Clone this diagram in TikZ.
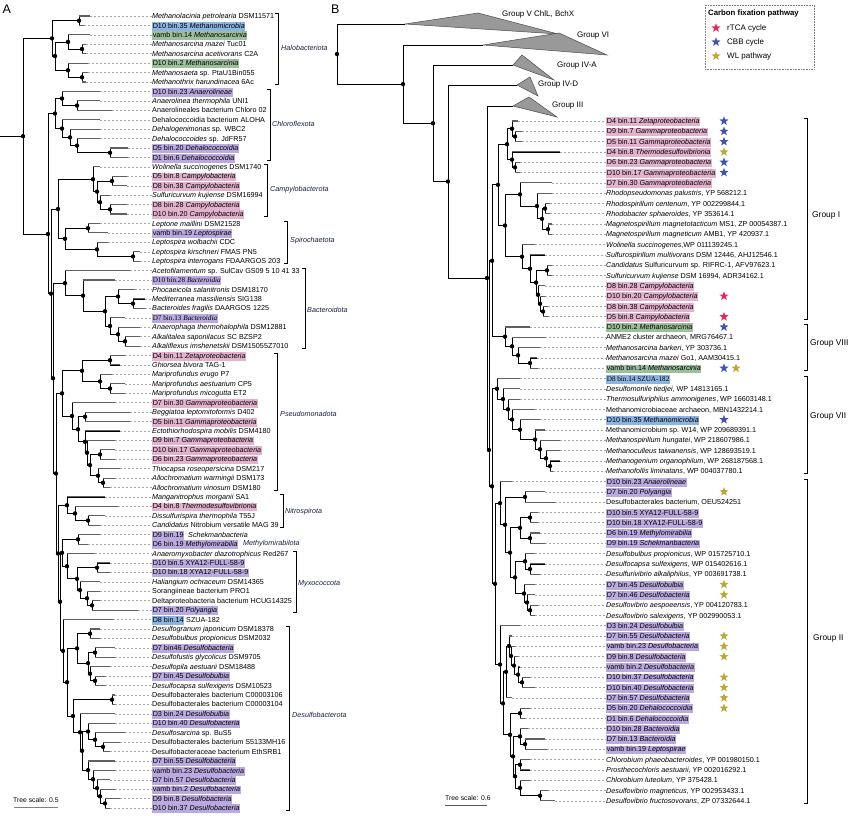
\documentclass[tikz,border=0pt]{standalone}
\usepackage{fontspec}
\setmainfont{Liberation Sans}
\newfontfamily\tnr{Liberation Serif}
\usetikzlibrary{calc,shapes.geometric}

\definecolor{hlpink}{RGB}{226,178,206}
\definecolor{hlpurp}{RGB}{186,170,224}
\definecolor{hlblue}{RGB}{140,180,224}
\definecolor{hlgreen}{RGB}{156,192,156}
\definecolor{strred}{RGB}{232,38,94}
\definecolor{strblue}{RGB}{62,84,176}
\definecolor{strgold}{RGB}{188,168,58}
\definecolor{navy}{RGB}{22,30,70}

\newcommand\hl[2]{{\setlength\fboxsep{0.6pt}\colorbox{#1}{\rule[-1.9pt]{0pt}{7.6pt}#2}}}
% clade: name, x, upper child, lower child
\newcommand\clade[4]{%
  \path let \p1=(#3), \p2=(#4) in (#2pt,{0.5*(\y1+\y2)}) coordinate (#1);
  \cladebody{#1}{#3}{#4}}
% clade with the stem at a given y: name, x, y, upper child, lower child
\newcommand\cladey[5]{%
  \coordinate (#1) at (#2,#3);
  \cladebody{#1}{#4}{#5}}
\newcommand\cladebody[3]{%
  \coordinate (p#2) at (#1 |- #2);
  \coordinate (p#3) at (#1 |- #3);
  \draw[tree] (#2) -| (#1 |- #3) -- (#3);
  \fill (#1) circle (2.2pt);}
% bracket: x, top leaf, bottom leaf
\newcommand\phybr[3]{\draw[brk] ([yshift=2.5pt]#1-3,0 |- #2) -- ([yshift=2.5pt]#1,0 |- #2)
  -- ([yshift=-2.5pt]#1,0 |- #3) -- ([yshift=-2.5pt]#1-3,0 |- #3);}

\tikzset{
  tree/.style={line width=0.8pt},
  twig/.style={line width=1.1pt,gray!75!black},
  lab/.style={anchor=base west,inner sep=0pt,font=\fontsize{7.2}{8}\selectfont},
  dashc/.style={gray!70,line width=0.45pt,dash pattern=on 2.4pt off 1.6pt},
  brk/.style={line width=0.6pt},
  phylum/.style={anchor=west,inner sep=0pt,text=navy,font=\fontsize{7.2}{8}\selectfont\itshape},
  grp/.style={anchor=west,inner sep=0pt,font=\fontsize{8.4}{9}\selectfont},
  collapsed/.style={fill=gray!80,draw=black!70,line width=0.5pt},
  fixstar/.style={star,star points=5,star point ratio=2.4,minimum size=9.5pt,inner sep=0pt},
  legtxt/.style={anchor=west,inner sep=0pt,font=\fontsize{8}{9}\selectfont},
  scaletxt/.style={anchor=west,inner sep=0pt,font=\fontsize{6.8}{8}\selectfont},
}

\begin{document}
\begin{tikzpicture}[x=1pt,y=-1pt]
\useasboundingbox (0,0) rectangle (863,816);
\coordinate (org) at (0,0);
\node[anchor=north west,inner sep=0pt,font=\fontsize{12.5}{14}\selectfont] (pA) at (2.5,5) {A};
\node[anchor=north west,inner sep=0pt,font=\fontsize{12.5}{14}\selectfont] (pB) at (331,5) {B};
%
% panel A leaves
\foreach \i/\e/\tx in {
 1/90/{\textit{Methanolacinia petrolearia} DSM11571},
 2/84/{\hl{hlblue}{D10 bin.35 \textit{Methanomicrobia}}},
 3/90/{\hl{hlgreen}{vamb bin.14 \textit{Methanosarcinia}}},
 4/86/{\textit{Methanosarcina mazei} Tuc01},
 5/86/{\textit{Methanosarcina acetivorans} C2A},
 6/88/{\hl{hlgreen}{D10 bin.2 \textit{Methanosarcinia}}},
 7/88/{\textit{Methanosaeta} sp. PtaU1Bin055},
 8/86/{\textit{Methanothrix harundinacea} 6Ac},
 9/100/{\hl{hlpurp}{D10 bin.23 \textit{Anaerolineae}}},
 10/100/{\textit{Anaerolinea thermophila} UNI1},
 11/112/{Anaerolineales bacterium Chloro 02},
 12/100/{Dehalococcoidia bacterium ALOHA},
 13/100/{\textit{Dehalogenimonas} sp. WBC2},
 14/100/{\textit{Dehalococcoides} sp. JdFR57},
 15/128/{\hl{hlpurp}{D5 bin.20 \textit{Dehalococcoidia}}},
 16/128/{\hl{hlpurp}{D1 bin.6 \textit{Dehalococcoidia}}},
 17/100/{\textit{Wolinella succinogenes} DSM1740},
 18/127/{\hl{hlpink}{D5 bin.8 \textit{Campylobacteria}}},
 19/127/{\hl{hlpink}{D8 bin.38 \textit{Campylobacteria}}},
 20/110/{\textit{Sulfuricurvum kujiense} DSM16994},
 21/127/{\hl{hlpink}{D8 bin.28 \textit{Campylobacteria}}},
 22/127/{\hl{hlpink}{D10 bin.20 \textit{Campylobacteria}}},
 23/100/{\textit{Leptone maillini} DSM21528},
 24/108/{\hl{hlpurp}{vamb bin.19 \textit{Leptospirae}}},
 25/108/{\textit{Leptospira wolbachii} CDC},
 26/140/{\textit{Leptospira kirschneri} FMAS PN5},
 27/140/{\textit{Leptospira interrogans} FDAARGOS 203},
 28/130/{\textit{Acetofilamentum} sp. SulCav GS09 5 10 41 33},
 29/115/{\hl{hlpurp}{\tnr D10 bin.28 \textit{Bacteroidia}}},
 30/135/{\textit{Phocaeicola salanitronis} DSM18170},
 31/145/{\textit{Mediterranea massiliensis} SIG138},
 32/145/{\textit{Bacteroides fragilis} DAARGOS 1225},
 33/125/{\hl{hlpurp}{\tnr D7 bin.13 \textit{Bacteroidia}}},
 34/140/{\textit{Anaerophaga thermohalophila} DSM12881},
 35/140/{\textit{Alkalitalea saponilacus} SC BZSP2},
 36/140/{\textit{Alkaliflexus imshenetskii} DSM15055Z7010},
 37/125/{\hl{hlpink}{D4 bin.11 \textit{Zetaproteobacteria}}},
 38/120/{\textit{Ghiorsea bivora} TAG-1},
 39/112/{\textit{Mariprofundus erugo} P7},
 40/125/{\textit{Mariprofundus aestuarium} CP5},
 41/125/{\textit{Mariprofundus micogutta} ET2},
 42/115/{\hl{hlpink}{D7 bin.30 \textit{Gammaproteobacteria}}},
 43/130/{\textit{Beggiatoa leptomitoformis} D402},
 44/130/{\hl{hlpink}{D5 bin.11 \textit{Gammaproteobacteria}}},
 45/120/{\textit{Ectothiorhodospira mobilis} DSM4180},
 46/115/{\hl{hlpink}{D9 bin.7 \textit{Gammaproteobacteria}}},
 47/115/{\hl{hlpink}{D10 bin.17 \textit{Gammaproteobacteria}}},
 48/115/{\hl{hlpink}{D6 bin.23 \textit{Gammaproteobacteria}}},
 49/120/{\textit{Thiocapsa roseopersicina} DSM217},
 50/115/{\textit{Allochromatium warmingii} DSM173},
 51/110/{\textit{Allochromatium vinosum} DSM180},
 52/105/{\textit{Manganitrophus morganii} SA1},
 53/118/{\hl{hlpink}{D4 bin.8 \textit{Thermodesulfovibrionia}}},
 54/105/{\textit{Dissulfurispira thermophila} T55J},
 55/100/{\textit{Candidatus} Nitrobium versatile MAG 39},
 56/100/{\hl{hlpurp}{D9 bin.19}\ \ \textit{Schekmanbacteria}},
 57/88/{\hl{hlpurp}{D6 bin.19 \textit{Methylomirabilia}}},
 58/95/{\textit{Anaeromyxobacter diazotrophicus} Red267},
 59/110/{\hl{hlpurp}{D10 bin.5 XYA12-FULL-58-9}},
 60/110/{\hl{hlpurp}{D10 bin.18 XYA12-FULL-58-9}},
 61/100/{\textit{Haliangium ochraceum} DSM14365},
 62/100/{Sorangiineae bacterium PRO1},
 63/100/{Deltaproteobacteria bacterium HCUG14325},
 64/138/{\hl{hlpurp}{D7 bin.20 \textit{Polyangia}}},
 65/113/{\hl{hlblue}{D8 bin.14} SZUA-182},
 66/100/{\textit{Desulfogranum japonicum} DSM18378},
 67/100/{\textit{Desulfobulbus propionicus} DSM2032},
 68/115/{\hl{hlpurp}{D7 bin46 \textit{Desulfobacteria}}},
 69/115/{\textit{Desulfofustis glycolicus} DSM9705},
 70/110/{\textit{Desulfopila aestuarii} DSM18488},
 71/105/{\hl{hlpurp}{D7 bin.45 \textit{Desulfobulbia}}},
 72/105/{\textit{Desulfocapsa sulfexigens} DSM10523},
 73/115/{Desulfobacterales bacterium C00003106},
 74/115/{Desulfobacterales bacterium C00003104},
 75/115/{\hl{hlpurp}{D3 bin.24 \textit{Desulfobulbia}}},
 76/115/{\hl{hlpurp}{D10 bin.40 \textit{Desulfobacteria}}},
 77/125/{\textit{Desulfosarcina} sp. BuS5},
 78/120/{Desulfobacterales bacterium S5133MH16},
 79/110/{Desulfobacteraceae bacterium EthSRB1},
 80/115/{\hl{hlpurp}{D7 bin.55 \textit{Desulfobacteria}}},
 81/115/{\hl{hlpurp}{vamb bin.23 \textit{Desulfobacteria}}},
 82/110/{\hl{hlpurp}{D7 bin.57 \textit{Desulfobacteria}}},
 83/115/{\hl{hlpurp}{vamb bin.2 \textit{Desulfobacteria}}},
 84/120/{\hl{hlpurp}{D9 bin.8 \textit{Desulfobacteria}}},
 85/110/{\hl{hlpurp}{D10 bin.37 \textit{Desulfobacteria}}}}{
  \pgfmathsetmacro\yy{16+(\i-1)*9.43}
  \pgfmathsetmacro\yb{\yy+2.6}
  \coordinate (a\i) at (\e,\yy);
  \node[lab] (ta\i) at (152,\yb) {\tx};
  \draw[dashc] (a\i) -- (a\i -| ta\i.west);
}
%
% panel A tree
\clade{aH1}{79}{a1}{a2}
\clade{aH5}{82}{a4}{a5}
\clade{aH3}{68}{a3}{aH5}
\clade{aH6}{82}{a7}{a8}
\clade{aH4}{68}{a6}{aH6}
\clade{aH2}{55}{aH3}{aH4}
\clade{aH}{52}{aH1}{aH2}
\clade{aC1a}{77}{a10}{a11}
\clade{aC1}{62}{a9}{aC1a}
\clade{aC2c}{110}{a15}{a16}
\clade{aC2b}{77}{a14}{aC2c}
\clade{aC2a}{70}{a13}{aC2b}
\clade{aC2}{62}{a12}{aC2a}
\clade{aC}{55}{aC1}{aC2}
\clade{aK3}{112}{a18}{a19}
\clade{aK5}{110}{a21}{a22}
\clade{aK4}{100}{a20}{aK5}
\clade{aK2}{97}{aK3}{aK4}
\clade{aK1}{93}{a17}{aK2}
\clade{aS1}{88}{a23}{a24}
\clade{aS3}{133}{a26}{a27}
\clade{aS2}{97}{a25}{aS3}
\clade{aS}{65}{aS1}{aS2}
\clade{aCS}{58}{aK1}{aS}
\clade{aBd5}{133}{a31}{a32}
\clade{aBd3}{118}{a30}{aBd5}
\clade{aBd7}{125}{a35}{a36}
\clade{aBd6}{118}{a34}{aBd7}
\clade{aBd4}{110}{a33}{aBd6}
\clade{aBd2}{105}{aBd3}{aBd4}
\clade{aBd1}{83}{a29}{aBd2}
\clade{aBd}{65}{a28}{aBd1}
\clade{aZe1}{110}{a37}{a38}
\clade{aZe3}{110}{a40}{a41}
\clade{aZe2}{100}{a39}{aZe3}
\clade{aZe}{82}{aZe1}{aZe2}
\clade{aG3}{85}{a43}{a44}
\clade{aG7}{100}{a47}{a48}
\clade{aG9}{103}{a50}{a51}
\clade{aG8}{98}{a49}{aG9}
\clade{aG6}{90}{aG7}{aG8}
\clade{aG5}{87}{a46}{aG6}
\clade{aG4}{85}{a45}{aG5}
\clade{aG2}{78}{aG3}{aG4}
\clade{aG}{72}{a42}{aG2}
\clade{aP}{62}{aZe}{aG}
\clade{aN2}{88}{a54}{a55}
\clade{aN1}{75}{a53}{aN2}
\clade{aN}{67}{a52}{aN1}
\clade{aM}{78}{a56}{a57}
\clade{aMy2}{97}{a59}{a60}
\clade{aMy5}{92}{a63}{a64}
\clade{aMy4}{87}{a62}{aMy5}
\clade{aMy3}{80}{a61}{aMy4}
\clade{aMy1}{77}{aMy2}{aMy3}
\clade{aMy}{67}{a58}{aMy1}
\clade{aMM}{62}{aM}{aMy}
\clade{aDs1}{90}{a66}{a67}
\clade{aDs3}{95}{a68}{a69}
\clade{aDs5}{95}{a71}{a72}
\clade{aDs4}{90}{a70}{aDs5}
\clade{aDs2}{88}{aDs3}{aDs4}
\clade{aDs6}{77}{aDs1}{aDs2}
\clade{aDs9}{112}{a73}{a74}
\clade{aDs14}{103}{a78}{a79}
\clade{aDs13}{95}{a77}{aDs14}
\clade{aDs12}{88}{a76}{aDs13}
\clade{aDs19}{105}{a84}{a85}
\clade{aDs18}{100}{a83}{aDs19}
\clade{aDs17}{97}{a82}{aDs18}
\clade{aDs16}{93}{a81}{aDs17}
\clade{aDs15}{88}{a80}{aDs16}
\clade{aDs11}{82}{aDs12}{aDs15}
\clade{aDs10}{80}{a75}{aDs11}
\clade{aDs8}{73}{aDs9}{aDs10}
\clade{aDs}{67}{aDs6}{aDs8}
\clade{aDD}{63}{a65}{aDs}
\clade{aZ3}{60}{aMM}{aDD}
\clade{aZ2}{58}{aN}{aZ3}
\clade{aZ}{56}{aP}{aZ2}
\clade{aY}{53}{aBd}{aZ}
\clade{aX}{51}{aCS}{aY}
\cladey{aB}{48}{234}{aC}{aX}
\clade{aR}{23}{aH}{aB}
\draw[tree] (aR) -- (aR -| org);
\foreach \i in {1,...,85} \draw[twig] (pa\i) -- (a\i);
%
% panel A phyla
\phybr{278}{a1}{a8}
\phybr{270}{a9}{a16}
\phybr{267}{a17}{a22}
\phybr{287}{a23}{a27}
\phybr{305}{a28}{a36}
\phybr{277}{a37}{a51}
\phybr{283}{a52}{a55}
\phybr{296}{a58}{a64}
\phybr{289}{a66}{a85}
\node[phylum] (phHalo) at (281,48) {Halobacteriota};
\node[phylum] (phChl) at (272,124) {Chloroflexota};
\node[phylum] (phCam) at (270,190) {Campylobacterota};
\node[phylum] (phSpi) at (290,241) {Spirochaetota};
\node[phylum] (phBac) at (307,310) {Bacteroidota};
\node[phylum] (phPse) at (280,414) {Pseudomonadota};
\node[phylum] (phNit) at (285,512) {Nitrospirota};
\node[phylum] (phMet) at (243,544) {Methylomirabilota};
\node[phylum] (phMyx) at (298,584) {Myxococcota};
\node[phylum] (phDes) at (292,715) {Desulfobacterota};
\node[scaletxt] (scA) at (13,800) {Tree scale: 0.5};
\draw[gray,line width=1pt] (14,807) -- (58,807);
%
% panel B leaves
\foreach \i/\e/\tx in {
 1/518/{\hl{hlpink}{D4 bin.11 \textit{Zetaproteobacteria}}},
 2/522/{\hl{hlpink}{D9 bin.7 \textit{Gammaproteobacteria}}},
 3/522/{\hl{hlpink}{D5 bin.11 \textit{Gammaproteobacteria}}},
 4/560/{\hl{hlpink}{D4 bin.8 \textit{Thermodesulfovibrionia}}},
 5/520/{\hl{hlpink}{D6 bin.23 \textit{Gammaproteobacteria}}},
 6/520/{\hl{hlpink}{D10 bin.17 \textit{Gammaproteobacteria}}},
 7/552/{\hl{hlpink}{D7 bin.30 \textit{Gammaproteobacteria}}},
 8/552/{\textit{Rhodopseudomonas palustris}, YP 568212.1},
 9/550/{\textit{Rhodospirillum centenum}, YP 002299844.1},
 10/550/{\textit{Rhodobacter sphaeroides}, YP 353614.1},
 11/552/{\textit{Magnetospirillum magnetotacticum} MS1, ZP 00054387.1},
 12/552/{\textit{Magnetospirillum magneticum} AMB1, YP 420937.1},
 13/535/{\textit{Wolinella succinogenes},WP 011139245.1},
 14/545/{\textit{Sulfurospirillum multivorans} DSM 12446, AHJ12546.1},
 15/552/{\textit{Candidatus} Sulfuricurvum sp. RIFRC-1, AFV97623.1},
 16/552/{\textit{Sulfuricurvum kujiense} DSM 16994, ADR34162.1},
 17/545/{\hl{hlpink}{D8 bin.28 \textit{Campylobacteria}}},
 18/545/{\hl{hlpink}{D10 bin.20 \textit{Campylobacteria}}},
 19/548/{\hl{hlpink}{D8 bin.38 \textit{Campylobacteria}}},
 20/548/{\hl{hlpink}{D5 bin.8 \textit{Campylobacteria}}},
 21/530/{\hl{hlgreen}{D10 bin.2 \textit{Methanosarcinia}}},
 22/545/{ANME2 cluster archaeon, MRG76467.1},
 23/540/{\textit{Methanosarcina barkeri}, YP 303736.1},
 24/537/{\textit{Methanosarcina mazei} Go1, AAM30415.1},
 25/538/{\hl{hlgreen}{vamb bin.14 \textit{Methanosarcinia}}},
 26/520/{\hl{hlblue}{\tnr D8 bin.14 SZUA-182}},
 27/520/{\textit{Desulfomonile tiedjei}, WP 14813165.1},
 28/520/{\textit{Thermosulfuriphilus ammonigenes}, WP 16603148.1},
 29/535/{Methanomicrobiaceae archaeon, MBN1432214.1},
 30/540/{\hl{hlblue}{D10 bin.35 \textit{Methanomicrobia}}},
 31/545/{Methanomicrobium sp. W14, WP 209689391.1},
 32/560/{\textit{Methanospirillum hungatei}, WP 218607986.1},
 33/560/{\textit{Methanoculleus taiwanensis}, WP 128693519.1},
 34/560/{\textit{Methanogenium organophilum}, WP 268187568.1},
 35/553/{\textit{Methanofollis liminatans}, WP 004037780.1},
 36/512/{\hl{hlpurp}{D10 bin.23 \textit{Anaerolineae}}},
 37/545/{\hl{hlpurp}{D7 bin.20 \textit{Polyangia}}},
 38/555/{Desulfobacterales bacterium, OEU524251},
 39/538/{\hl{hlpurp}{D10 bin.5 XYA12-FULL-58-9}},
 40/538/{\hl{hlpurp}{D10 bin.18 XYA12-FULL-58-9}},
 41/540/{\hl{hlpurp}{D6 bin.19 \textit{Methylomirabilia}}},
 42/545/{\hl{hlpurp}{D9 bin.19 \textit{Schekmanbacteria}}},
 43/535/{\textit{Desulfobulbus propionicus}, WP 015725710.1},
 44/545/{\textit{Desulfocapsa sulfexigens}, WP 015402616.1},
 45/540/{\textit{Desulfurivibrio alkaliphilus}, YP 003691738.1},
 46/535/{\hl{hlpurp}{D7 bin.45 \textit{Desulfobulbia}}},
 47/535/{\hl{hlpurp}{D7 bin.46 \textit{Desulfobacteria}}},
 48/538/{\textit{Desulfovibrio aespoeensis}, YP 004120783.1},
 49/535/{\textit{Desulfovibrio salexigens}, YP 002990053.1},
 50/520/{\hl{hlpurp}{D3 bin.24 \textit{Desulfobulbia}}},
 51/512/{\hl{hlpurp}{D7 bin.55 \textit{Desulfobacteria}}},
 52/515/{\hl{hlpurp}{vamb bin.23 \textit{Desulfobacteria}}},
 53/518/{\hl{hlpurp}{D9 bin.8 \textit{Desulfobacteria}}},
 54/520/{\hl{hlpurp}{vamb bin.2 \textit{Desulfobacteria}}},
 55/530/{\hl{hlpurp}{D10 bin.37 \textit{Desulfobacteria}}},
 56/535/{\hl{hlpurp}{D10 bin.40 \textit{Desulfobacteria}}},
 57/512/{\hl{hlpurp}{D7 bin.57 \textit{Desulfobacteria}}},
 58/530/{\hl{hlpurp}{D5 bin.20 \textit{Dehalococcoidia}}},
 59/525/{\hl{hlpurp}{D1 bin.6 \textit{Dehalococcoidia}}},
 60/528/{\hl{hlpurp}{D10 bin.28 \textit{Bacteroidia}}},
 61/545/{\hl{hlpurp}{D7 bin.13 \textit{Bacteroidia}}},
 62/547/{\hl{hlpurp}{vamb bin.19 \textit{Leptospirae}}},
 63/530/{\textit{Chlorobium phaeobacteroides}, YP 001980150.1},
 64/530/{\textit{Prosthecochloris aestuarii}, YP 002016292.1},
 65/530/{\textit{Chlorobium luteolum}, YP 375428.1},
 66/548/{\textit{Desulfovibrio magneticus}, YP 002953433.1},
 67/555/{\textit{Desulfovibrio fructosovorans}, ZP 07332644.1}}{
  \pgfmathsetmacro\yy{110.7+\i*10.3}
  \pgfmathsetmacro\yb{\yy+2.6}
  \coordinate (b\i) at (\e,\yy);
  \node[lab] (tb\i) at (606,\yb) {\tx};
  \draw[dashc] (b\i) -- (b\i -| tb\i.west);
}
%
% collapsed groups
\filldraw[collapsed] (405,24) coordinate (gV) -- (478,13) -- (558,34) -- cycle;
\filldraw[collapsed] (483,45) coordinate (gVI) -- (559,33) -- (607,55) -- cycle;
\filldraw[collapsed] (513,65) coordinate (gIVA) -- (522,55) -- (554,80) -- cycle;
\filldraw[collapsed] (517,85) coordinate (gIVD) -- (530,77) -- (538,96) -- cycle;
\filldraw[collapsed] (513,106) coordinate (gIII) -- (529,97) -- (557,117) -- cycle;
\node[legtxt] (tV) at (502,14) {Group V ChlL, BchX};
\node[legtxt] (tVI) at (577,36) {Group VI};
\node[legtxt] (tIVA) at (557,66) {Group IV-A};
\node[legtxt] (tIVD) at (538,85) {Group IV-D};
\node[legtxt] (tIII) at (552,106) {Group III};
%
% panel B tree
\clade{bI1b}{515}{b2}{b3}
\clade{bI1a}{512}{b1}{bI1b}
\clade{bI1d}{515}{b5}{b6}
\clade{bI1c}{512}{b4}{bI1d}
\clade{bI1}{507}{bI1a}{bI1c}
\clade{bI3d}{545}{b9}{b10}
\clade{bI3e}{548}{b11}{b12}
\clade{bI3c}{542}{bI3d}{bI3e}
\clade{bI3a}{537}{b8}{bI3c}
\clade{bI3}{520}{b7}{bI3a}
\clade{bI7}{547}{b15}{b16}
\clade{bI10}{543}{b19}{b20}
\clade{bI9}{540}{b18}{bI10}
\clade{bI8}{538}{b17}{bI9}
\clade{bI6}{536}{bI7}{bI8}
\clade{bI5}{530}{b14}{bI6}
\clade{bI4}{522}{b13}{bI5}
\clade{bI2}{505}{bI3}{bI4}
\clade{bI}{498}{bI1}{bI2}
\clade{bV3}{530}{b24}{b25}
\clade{bV2}{518}{b23}{bV3}
\clade{bV1}{512}{b22}{bV2}
\clade{bVIII}{505}{b21}{bV1}
\clade{bF}{492}{bI}{bVIII}
\clade{bVII8}{550}{b34}{b35}
\clade{bVII7}{546}{b33}{bVII8}
\clade{bVII6}{540}{b32}{bVII7}
\clade{bVII5}{535}{b31}{bVII6}
\clade{bVII4}{520}{b30}{bVII5}
\clade{bVII3}{512}{b29}{bVII4}
\clade{bVII2}{508}{b28}{bVII3}
\clade{bVII1}{503}{b27}{bVII2}
\clade{bVII}{497}{b26}{bVII1}
\clade{bII4}{525}{b37}{b38}
\clade{bII6a}{530}{b39}{b40}
\clade{bII6b}{530}{b41}{b42}
\clade{bII6}{520}{bII6a}{bII6b}
\clade{bII8a}{530}{b44}{b45}
\clade{bII8}{525}{b43}{bII8a}
\clade{bII11}{530}{b48}{b49}
\clade{bII10}{527}{b47}{bII11}
\clade{bII9}{524}{b46}{bII10}
\clade{bII7}{515}{bII8}{bII9}
\clade{bII5}{510}{bII6}{bII7}
\clade{bII3}{505}{bII4}{bII5}
\clade{bII1}{500}{b36}{bII3}
\clade{bII18}{522}{b55}{b56}
\clade{bII17}{518}{b54}{bII18}
\clade{bII16}{514}{b53}{bII17}
\clade{bII15}{511}{b52}{bII16}
\clade{bII13x}{509}{b51}{bII15}
\clade{bII13}{506}{bII13x}{b57}
\clade{bII19}{520}{b58}{b59}
\clade{bII22}{525}{b61}{b62}
\clade{bII21}{520}{b60}{bII22}
\clade{bII24}{520}{b63}{b64}
\clade{bII26}{540}{b66}{b67}
\clade{bII25}{520}{b65}{bII26}
\clade{bII23}{515}{bII24}{bII25}
\clade{bII20}{513}{bII21}{bII23}
\clade{bII14}{510}{bII19}{bII20}
\clade{bII12}{503}{bII13}{bII14}
\clade{bII2}{500}{b50}{bII12}
\clade{bII}{495}{bII1}{bII2}
\clade{bG}{492}{bVII}{bII}
\cladey{bE}{489}{450}{bF}{bG}
\clade{bD}{487}{gIII}{bE}
\clade{bC}{448}{gIVD}{bD}
\clade{bB}{433}{gIVA}{bC}
\clade{bA}{403}{gVI}{bB}
\clade{bR}{337}{gV}{bA}
\foreach \i in {1,...,67} \draw[twig] (pb\i) -- (b\i);
%
% stars
\foreach \i/\cl in {1/strblue,2/strblue,3/strblue,4/strgold,5/strblue,6/strblue,
  18/strred,20/strred,21/strblue,25/strblue,30/strblue,37/strgold,46/strgold,
  47/strgold,51/strgold,52/strgold,53/strgold,55/strgold,56/strgold,57/strgold,58/strgold}
  \node[fixstar,fill=\cl] (st\i) at (724,0 |- b\i) {};
\node[fixstar,fill=strgold] (st25w) at (736,0 |- b25) {};
%
% groups
\phybr{807}{b1}{b20}
\phybr{807}{b21}{b25}
\phybr{807}{b26}{b35}
\phybr{807}{b36}{b67}
\node[grp] (grI) at (812,215) {Group I};
\node[grp] (grVIII) at (810,343) {Group VIII};
\node[grp] (grVII) at (810,416) {Group VII};
\node[grp] (grII) at (813,638) {Group II};
\node[scaletxt] (scB) at (445,798) {Tree scale: 0.6};
\draw[gray!70!black,line width=1pt] (445,805) -- (487,805);
%
% legend
\draw[gray,densely dotted,line width=0.6pt] (705,5) rectangle (814,69);
\node[legtxt,font=\bfseries\fontsize{7.8}{9}\selectfont] (lgT) at (708,13) {Carbon fixation pathway};
\node[fixstar,fill=strred] (lg1) at (716,28) {};
\node[fixstar,fill=strblue] (lg2) at (716,42) {};
\node[fixstar,fill=strgold] (lg3) at (716,56) {};
\node[legtxt] (lgt1) at (727,28) {rTCA cycle};
\node[legtxt] (lgt2) at (727,42) {CBB cycle};
\node[legtxt] (lgt3) at (727,56) {WL pathway};
\end{tikzpicture}
\end{document}
